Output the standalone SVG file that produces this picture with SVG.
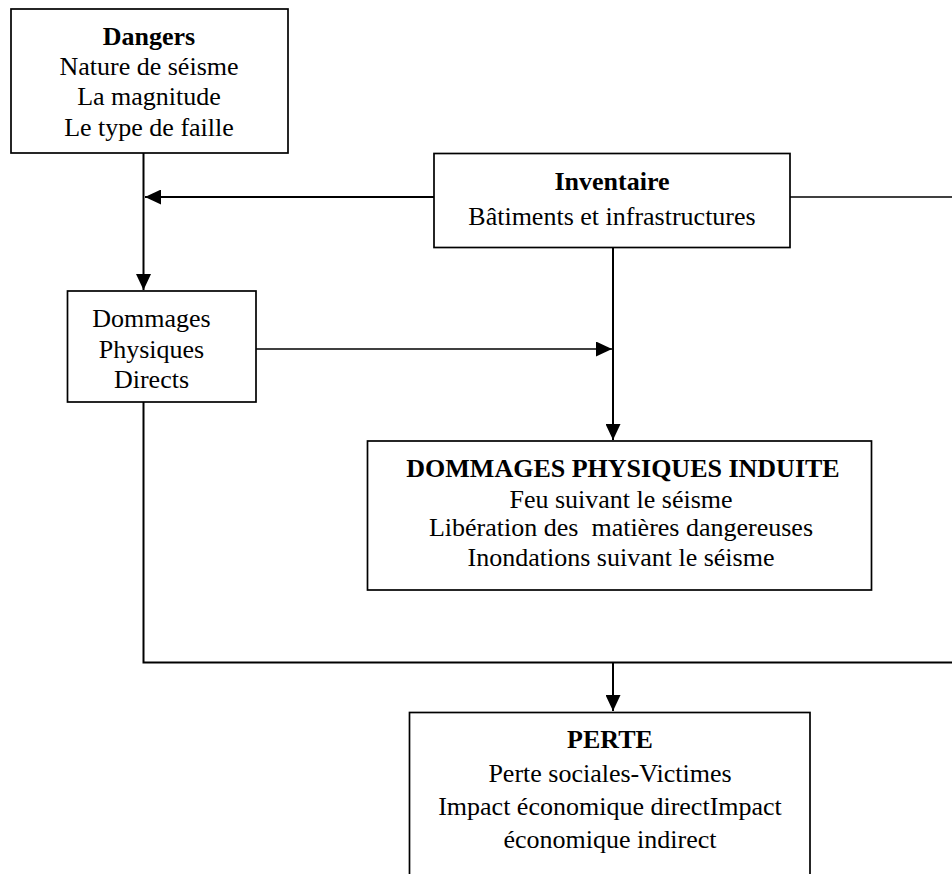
<svg xmlns="http://www.w3.org/2000/svg" width="952" height="874" viewBox="0 0 952 874">
<style>
.box{fill:#fff;stroke:#000;stroke-width:1.7}
.t{font-family:"Liberation Serif","Times New Roman",serif;font-size:26px;fill:#000;text-anchor:middle}
.b{font-weight:bold}
.c{fill:none;stroke:#000;stroke-width:2}
.c2{fill:none;stroke:#000;stroke-width:1.7}
</style>
<defs>
<marker id="ah" markerUnits="userSpaceOnUse" markerWidth="16" markerHeight="15" refX="16" refY="7.5" orient="auto">
<path d="M0,0 L16,7.5 L0,15 z" fill="#000"/>
</marker>
</defs>
<rect width="952" height="874" fill="#fff"/>
<g id="connectors">
<path class="c" d="M143.5,153 V290" marker-end="url(#ah)"/>
<path class="c" d="M434,197 H145" marker-end="url(#ah)"/>
<path class="c2" d="M790,197 H952"/>
<path class="c2" d="M256,349 H612" marker-end="url(#ah)"/>
<path class="c" d="M613,248 V440" marker-end="url(#ah)"/>
<path class="c" d="M143.5,402 V662.5 H952"/>
<path class="c" d="M613,662.5 V711" marker-end="url(#ah)"/>
</g>
<g id="dangers">
<rect class="box" x="11" y="9" width="277" height="144"/>
<text class="t b" x="149" y="45">Dangers</text>
<text class="t" x="149" y="75">Nature de séisme</text>
<text class="t" x="149" y="105">La magnitude</text>
<text class="t" x="149" y="135.5">Le type de faille</text>
</g>
<g id="inventaire">
<rect class="box" x="434" y="153.5" width="356" height="94"/>
<text class="t b" x="612" y="190">Inventaire</text>
<text class="t" x="612" y="225">Bâtiments et infrastructures</text>
</g>
<g id="dommages-directs">
<rect class="box" x="67.5" y="291" width="188.5" height="111"/>
<text class="t" x="151.5" y="326.5">Dommages</text>
<text class="t" x="151.5" y="357.5">Physiques</text>
<text class="t" x="151.5" y="388">Directs</text>
</g>
<g id="dommages-induits">
<rect class="box" x="367.5" y="441" width="504" height="149"/>
<text class="t b" x="623" y="476.5">DOMMAGES PHYSIQUES INDUITE</text>
<text class="t" x="621" y="508">Feu suivant le séisme</text>
<text class="t" x="621" y="536" style="white-space:pre">Libération des  matières dangereuses</text>
<text class="t" x="621" y="565.5">Inondations suivant le séisme</text>
</g>
<g id="perte">
<rect class="box" x="409.5" y="712.5" width="400.5" height="180"/>
<text class="t b" x="610" y="748">PERTE</text>
<text class="t" x="610" y="781.5">Perte sociales-Victimes</text>
<text class="t" x="610" y="815">Impact économique directImpact</text>
<text class="t" x="610" y="848">économique indirect</text>
</g>
</svg>
